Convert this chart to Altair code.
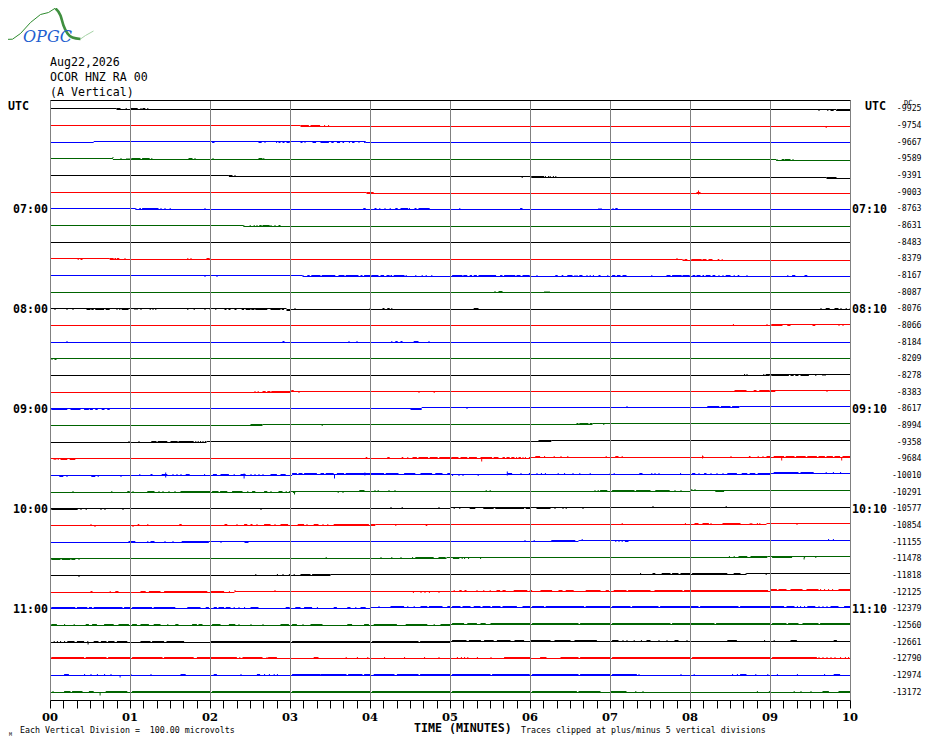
import altair as alt
import pandas as pd

# ---------- values ----------
RIGHT_LABELS = ["-9925","-9754","-9667","-9589","-9391","-9003","-8763","-8631","-8483","-8379","-8167","-8087",
                "-8076","-8066","-8184","-8209","-8278","-8383","-8617","-8994","-9358","-9684","-10010","-10291",
                "-10577","-10854","-11155","-11478","-11818","-12125","-12379","-12560","-12661","-12790","-12974","-13172"]
LEFT_TIMES = {6:"07:00",12:"08:00",18:"09:00",24:"10:00",30:"11:00"}
RIGHT_TIMES = {6:"07:10",12:"08:10",18:"09:10",24:"10:10",30:"11:10"}
COLORS = ["#000000","#ff0000","#0000ff","#006400"]
MINUTE_LABELS = ["00","01","02","03","04","05","06","07","08","09","10"]

# baseline level of each trace: (minute, image row)
LEVELS = [
 [(0,108),(.825,109),(9.82,110)], [(0,125),(3.125,126)], [(0,142),(.54,141),(3.94,142)], [(0,158),(.78,159),(9.07,160)],
 [(0,175),(2.23,176),(6.01,177),(9.7,178)], [(0,192),(3.95,193)], [(0,208),(1.06,209)], [(0,225),(2.41,226)],
 [(0,242)], [(0,258),(.74,259),(7.9,260)], [(0,275),(3.15,276)], [(0,292)],
 [(0,308),(2.95,309)], [(0,325),(9.01,324)], [(0,342)], [(0,358)],
 [(0,375),(8.99,374)], [(0,392),(3.0,391),(9.0,390)], [(0,408),(4.64,407),(8.61,406)], [(0,425),(2.65,424),(6.775,423)],
 [(0,442),(1.95,441),(6.26,440)], [(0,458),(6.0,457)], [(0,475),(3.02,474),(9.0,473)], [(0,492),(3.0,491),(8.0,490)],
 [(0,508),(5.0,507)], [(0,525),(4.06,524),(8.95,523)], [(0,542),(1.98,541),(6.6,540)], [(0,558),(4.95,557),(8.96,556)],
 [(0,575),(3.5,574),(8.7,573)], [(0,592),(2.3,591),(9.0,590)], [(0,608),(4.0,607)], [(0,625),(5.0,624)],
 [(0,642),(5.0,641)], [(0,658)], [(0,675)], [(0,692)],
]

# stretches where the trace is one pixel thicker (number = single-pixel dot)
R00 = [(.825,.875),.94,(1.0,1.09),1.125,(1.15,1.185),1.21,9.6,9.71,(9.75,9.79),(9.825,10)]
R01 = [(3.125,3.23),(3.25,3.37),3.42,3.47,9.69]
R02 = [(2.02,2.05),(2.6,2.64),2.675,2.82,(2.85,2.875),(2.9,2.925),(2.95,2.99),(3.125,3.15),3.175,(3.275,3.32),
       (3.375,3.48),(3.51,3.54),(3.58,3.62),(3.65,3.67),3.73,(3.77,3.8),3.85,(3.92,3.94)]
R03 = [.775,.875,.95,.975,(1.01,1.125),(1.145,1.24),1.26,(1.725,1.775),1.8,2.025,(2.6,2.65),2.66,
       9.075,(9.14,9.17),(9.175,9.25),9.275]
R04 = [(2.23,2.275),2.3,5.89,(6.01,6.17),6.18,6.22,6.24,6.28,6.31,(9.7,9.825)]
R05 = [(3.95,4.04),(8.075,8.11),(8.09,8.125)]
R06 = [1.06,(1.11,1.13),(1.145,1.35),1.375,1.425,1.49,1.925,(3.91,3.94),(4.05,4.075),4.11,4.175,4.24,(4.31,4.34),
       (4.375,4.47),4.48,(4.55,4.575),(4.6,4.74),5.11,(5.87,5.9),6.85,6.875,7.025,(7.06,7.09)]
R07 = [2.41,2.49,2.54,2.575,(2.61,2.64),(2.65,2.74),2.75,2.8,(2.85,2.875)]
R08 = []
R09 = [.34,(.375,.4),(.74,.79),(.8,.82),(.83,.86),.925,1.71,1.75,(1.95,1.99),7.825,7.9,(7.925,7.96),(8.01,8.14),
       (8.15,8.2),(8.225,8.275),(8.34,8.36),8.39]
R10 = [1.925,2.075,3.15,(3.21,3.24),(3.26,3.375),(3.39,3.56),(3.6,3.675),(3.69,3.85),(3.875,3.9),(3.92,4.0),(4.01,4.1),
       (4.125,4.17),(4.2,4.24),(4.25,4.27),(4.29,4.425),4.44,4.56,4.64,4.69,4.76,(5.02,5.15),(5.16,5.21),(5.24,5.27),
       (5.29,5.33),(5.35,5.57),(5.62,5.65),(5.67,5.81),(5.825,5.875),(5.9,5.99),6.075,(6.31,6.34),(6.39,6.41),(6.46,6.525),
       6.55,6.575,(6.61,6.65),6.7,6.74,6.78,(6.85,6.875),6.96,(7.02,7.06),(7.08,7.125),(7.15,7.2),7.51,(7.7,7.75),(7.77,7.89),
       (7.9,7.99),(8.025,8.06),(8.075,8.125),(8.15,8.17),(8.19,8.25),(8.275,8.31),8.35,8.4,(8.44,8.5),8.54,(8.59,8.61),8.7,
       9.21,(9.27,9.31),(9.425,9.46)]
R11 = [5.55,(5.6,5.65),6.175,6.2,6.225]
R12 = [.05,.2,.275,(.45,.5),(.51,.54),(.56,.67),(.69,.74),.825,.86,(.89,.975),1.05,1.075,1.125,1.24,1.275,1.31,1.71,1.79,
       1.925,1.99,2.06,(2.175,2.2),(2.225,2.25),(2.3,2.325),(2.39,2.42),(2.44,2.5),(2.51,2.55),(2.56,2.71),(2.75,2.875),
       (2.89,2.92),(2.95,3.0),3.05,3.99,(4.15,4.175),(4.21,4.24),4.26,(5.29,5.35),9.625,(9.69,9.74),(9.8,9.85),9.875,9.94,9.99]
R13 = [8.53,8.95,(9.01,9.15),(9.21,9.25),(9.525,9.56),9.85,9.9]
R14 = [.2,(2.9,2.925),3.725,3.825,4.26,(4.31,4.34),(4.375,4.4),(4.54,4.6),4.725]
R15 = [.0125,(.05,.075)]
R16 = [8.67,8.7,8.91,(8.94,9.0),(9.01,9.23),(9.25,9.29),(9.31,9.35),(9.375,9.48),9.56,9.65,9.675]
R17 = [2.55,2.59,(2.65,2.69),(2.71,2.75),(2.76,3.0),(3.01,3.04),3.1,4.6,4.79,(8.55,8.7),(8.79,8.825),(8.86,8.99),(9.0,9.06),9.7]
R18 = [(.01,.21),(.25,.375),(.42,.48),(.49,.53),(.56,.59),(.64,.675),(.71,.74),(4.5,4.64),5.2,7.2,(8.21,8.36),(8.38,8.5),(8.52,8.61)]
R19 = [(2.5,2.65),3.39,(6.575,6.6),(6.61,6.725),(6.74,6.775),6.91]
R20 = [.975,1.1,(1.26,1.325),(1.34,1.46),(1.5,1.59),(1.6,1.79),1.81,1.84,1.87,1.9,1.93,(6.1,6.26)]
R21 = [.04,.06,.09,(.125,.21),(.24,.31),(3.94,3.96),(4.21,4.24),(4.39,4.41),4.46,(4.525,4.58),(4.6,4.72),(4.74,4.84),(4.86,5.0),
       (5.01,5.1),(5.125,5.21),(5.23,5.33),(5.375,5.52),(5.54,5.6),(5.65,5.68),(5.7,5.74),(5.76,5.8),5.82,(5.85,5.88),5.9,5.93,
       (5.98,6.0),(6.06,6.12),6.17,6.29,6.375,6.46,6.94,(7.06,7.1),7.14,8.15,8.5,(8.73,8.75),8.84,8.9,(8.95,9.0),(9.04,9.17),
       (9.19,9.3),(9.32,9.44),(9.46,9.58),(9.6,9.68),(9.7,9.78),(9.8,9.87),(9.9,10)]
R22 = [(.11,.16),.2,(.51,.56),.59,.875,1.11,(1.25,1.275),(1.39,1.46),1.525,1.575,1.625,(1.69,1.74),1.92,(2.03,2.08),(2.125,2.23),
       2.29,(2.375,2.44),2.5,2.55,2.6,2.65,(2.75,2.83),(2.875,2.94),(3.02,3.08),(3.1,3.15),(3.17,3.33),(3.375,3.42),(3.44,3.54),
       (3.58,3.67),(3.69,4.17),(4.19,4.35),(4.42,4.56),(4.625,4.77),(4.81,4.9),(4.96,5.0),5.02,5.1,5.15,5.34,(5.71,5.77),5.875,
       (5.98,6.0),6.075,6.13,6.18,6.34,6.42,6.525,6.61,6.74,6.99,7.04,(7.36,7.4),7.51,7.55,7.6,7.87,(8.02,8.06),8.1,(8.17,8.2),8.25,
       8.325,8.4,(8.46,8.58),(8.64,8.71),(8.74,8.81),(8.84,9.0),(9.04,9.35),(9.375,9.54),9.69,9.78,9.87]
R23 = [.275,.76,(.96,.99),1.025,(1.21,1.3),1.35,1.4,1.475,1.55,(1.625,2.0),(2.02,2.1),(2.12,2.21),(2.27,2.4),2.46,(2.52,2.56),
       (2.67,2.71),2.75,(2.85,2.9),2.94,2.98,(3.03,3.06),3.59,3.65,(3.86,3.925),4.05,4.09,4.225,4.3,5.44,5.49,6.8,6.84,(6.87,6.96),
       (7.02,7.3),(7.32,7.5),(7.56,7.74),7.8,7.875,8.01,8.05,(8.31,8.42)]
R24 = [(.01,.34),.375,.44,.625,.675,.9,2.625,4.25,4.39,4.85,5.04,5.11,(5.24,5.31),(5.41,5.54),(5.56,5.92),(5.94,6.0),(6.075,6.25),
       6.3,6.4,6.44,6.65,7.525,8.44]
R25 = [.5,.55,1.025,(1.09,1.11),1.21,(1.61,1.64),(2.175,2.21),2.325,(2.42,2.46),(2.5,2.525),2.575,(2.67,2.75),2.8,(2.875,2.97),
       (3.09,3.17),3.2,(3.29,3.35),3.4,3.46,(3.54,3.98),(4.0,4.06),4.31,(4.69,4.71),7.14,7.93,(8.05,8.1),(8.15,8.23),8.25,(8.4,8.625),
       8.74,8.76,8.83,8.86,9.325]
R26 = [(.975,1.06),1.21,(1.25,1.3),1.425,1.525,(1.64,1.98),2.125,(2.425,2.475),5.925,6.04,(6.26,6.56),6.64,7.06,7.1,7.14,(7.18,7.225),9.72,9.78]
R27 = [(.01,.125),(.14,.25),(.26,.31),.35,3.44,4.125,4.26,4.375,4.52,(4.56,4.79),(4.85,4.94),(5.03,5.11),5.14,5.17,5.22,5.37,
       8.48,8.54,(8.6,8.71),(8.75,8.96),(9.02,9.27),9.42,9.56]
R28 = [.35,2.56,2.83,2.9,2.98,3.04,(3.125,3.25),(3.27,3.5),7.37,(7.525,7.56),(7.64,7.75),(7.77,7.85),(7.875,8.0),(8.02,8.46),
       (8.54,8.625),8.69,8.94]
R29 = [(.5,.525),.74,(.81,.85),(1.125,1.19),(1.23,1.375),(1.42,1.96),(2.0,2.17),2.23,2.3,2.8,4.53,4.625,4.675,4.73,4.85,5.04,
       (5.11,5.14),(5.175,5.2),5.325,5.41,5.49,(5.575,5.62),(5.65,5.69),(5.79,5.96),(5.99,6.02),(6.125,6.27),(6.35,6.4),(6.44,6.54),
       (6.69,6.875),(6.94,6.98),(7.04,7.2),(7.22,7.5),(7.55,7.9),(7.92,8.97),(9.0,9.08),(9.1,9.2),(9.25,9.4),(9.45,9.6),9.62,9.67,
       9.72,9.77,(9.85,10)]
R30 = [(.01,.31),(.33,.46),(.48,.52),(.54,.9),(.92,1.0),(1.02,1.27),(1.29,1.56),(1.71,1.875),(1.94,1.98),(2.04,2.08),(2.1,2.17),
       (2.19,2.25),2.29,2.35,2.42,(2.5,2.6),(2.94,2.99),(3.06,3.125),(3.17,3.27),3.33,(3.54,3.58),(3.71,3.75),3.81,(3.875,3.94),4.1,
       (4.25,4.42),4.46,4.54,(4.625,4.71),(4.73,4.9),(4.96,5.0),(5.02,5.125),(5.15,5.25),(5.29,5.375),(5.4,5.5),(5.52,5.625),(5.65,5.83),
       (5.9,6.0),(6.02,6.17),(6.19,6.67),(6.69,7.0),(7.02,7.25),(7.27,7.6),(7.62,8.1),(8.12,8.6),(8.62,9.17),(9.2,9.3),9.33,9.37,9.42,
       (9.46,9.56),9.6,9.65,9.7,(9.75,9.85),(9.92,10)]
R31 = [(.01,.08),.17,.29,(.44,.48),(.52,.58),(.67,.79),(.85,.98),(1.02,1.08),(1.125,1.23),(1.29,1.375),1.46,(1.56,1.6),(1.77,1.83),
       (1.85,1.9),(2.02,2.125),(2.23,2.31),2.35,2.5,2.65,(2.875,2.98),(3.02,3.08),3.15,(3.25,3.4),(3.71,3.77),(3.92,3.98),(4.04,4.33),
       (4.44,4.71),4.79,(4.875,5.0),(5.02,5.17),(5.21,5.33),(5.375,5.44),(5.5,6.0),(6.02,6.6),(6.62,7.0),(7.02,7.75),(7.77,8.3),
       (8.32,9.0),(9.02,9.2),(9.22,9.35),(9.4,9.6),(9.62,10)]
R32 = [.04,.08,.12,.17,(.21,.3),(.33,.42),.46,(.54,.6),(.63,.7),(.72,.8),(.83,.96),(1.125,1.25),(1.27,1.42),(1.45,1.67),(2.0,3.0),
       (3.02,4.0),(4.02,4.6),(4.62,5.0),(5.02,5.2),(5.23,5.38),(5.42,5.54),(5.58,5.75),(5.8,5.92),(6.0,6.25),(6.3,6.5),(6.55,6.83),
       (7.02,7.1),7.15,7.2,7.29,7.38,(7.45,7.5),7.6,7.7,(7.8,7.85),7.95,(8.46,8.58),8.92,9.04,(9.25,9.33),(9.79,9.83)]
R33 = [(.01,.42),(.44,.7),(.72,1.0),(1.02,1.4),(1.42,1.79),(1.83,2.33),2.36,(2.4,2.65),2.7,(2.72,2.83),(3.29,3.35),3.69,3.83,3.96,
       4.17,4.42,4.67,4.85,5.08,5.13,5.17,5.21,5.33,5.5,(5.67,6.0),(6.12,6.2),(6.375,6.6),(6.62,7.0),(7.02,8.0),(8.02,9.0),(9.02,9.58),
       9.6,9.65,9.7,9.75,9.8,9.87,9.93,9.97]
R34 = [(.17,.23),.42,.5,.58,.67,.75,1.0,1.25,(1.625,1.69),(2.04,2.08),2.375,(2.58,2.62),2.67,2.73,2.79,2.83,(3.02,3.375),(3.375,3.7),
       (3.72,3.9),(3.92,4.0),(4.04,4.3),(4.33,4.6),(4.62,5.0),(5.02,5.5),(5.52,5.99),(6.02,6.6),(6.62,7.0),(7.02,7.33),7.35,7.875,
       8.04,8.52,8.58,(8.62,8.7),8.81,8.96,9.08,9.33,9.67,(9.79,9.87)]
R35 = [.025,(.17,.25),(.27,.4),(.48,.54),(.69,.96),(1.02,2.0),(2.02,3.0),(3.02,4.0),(4.02,5.0),(5.02,6.0),(6.02,6.58),(6.6,6.875),
       (7.0,7.2),7.31,7.4,8.83,8.98,9.29,9.375,9.5,(9.65,9.73),(9.85,10)]
BURSTS = [R00,R01,R02,R03,R04,R05,R06,R07,R08,R09,R10,R11,R12,R13,R14,R15,R16,R17,R18,R19,R20,R21,R22,R23,R24,R25,R26,R27,R28,R29,R30,R31,R32,R33,R34,R35]

# minute ranges in which the thickening hangs below the trace instead of above it
BELOW = {0:[(9.55,9.8)],1:[(9.6,9.8)],2:[(0,3.95)],4:[(5.8,6.0)],9:[(.3,.5)],10:[(1.9,2.1)],12:[(0,3.0)],13:[(9.01,10)],15:[(0,1)],
         16:[(9.0,10)],17:[(3.05,5),(9.0,10)],18:[(0,.8),(4.5,5.3)],19:[(3.3,3.5),(6.9,7)],21:[(0,.4)],22:[(0,.9),(5,5.4)],
         23:[(3.0,3.1),(3.5,3.7),(8.3,8.5)],24:[(0,1),(2.6,2.7),(5,7)],25:[(.54,.56),(1.0,1.05),(4.3,4.8),(9.3,9.4)],
         26:[(2.1,2.5),(7,7.3)],27:[(0,.4),(5,5.5),(9,9.6)],28:[(.3,.4),(8.9,9)],29:[(4.5,4.9)]}

# taller spikes: (trace, minute, top row, bottom row)
SPIKES = [(21,5.39,458,461),(21,9.14,457,460),(21,9.89,457,460),(21,8.15,455,458),(22,1.44,472,477),(22,2.42,473,478),(22,3.55,474,478),
          (22,3.93,472,475),(22,5.71,471,475),(23,3.05,491,494),(35,.62,692,695),(34,.87,675,677),(32,.47,642,644),(27,9.42,557,559),
          (5,8.1,190,194)]

LOGO_THIN_X = [2,12,20,30,40,48,55,55]
LOGO_THIN_Y = [39,38.7,33,22,14,12,7.5,3]
LOGO_THICK_X = [55,60,63,67,72,80]
LOGO_THICK_Y = [8,15,25,33,37,38.5]
LOGO_FADE_X = [80,85,93]
LOGO_FADE_Y = [38.5,35,30.5]

# ---------- tables ----------
HALF = 1/160  # half a pixel in minutes, so that 1px rules fall on whole image pixels
y_scale = alt.Scale(domain=[99.5,699.5], range=[0,600], nice=False, zero=False)
x_scale = alt.Scale(domain=[-HALF,10-HALF], nice=False, zero=False)
DOT = 1/80

def px(x): return (x-50)/80
def px_text(x): return px(x)-HALF

rows = []
for r,(steps,spans) in enumerate(zip(LEVELS,BURSTS)):
    col = COLORS[r%4]
    for i,(t,lev) in enumerate(steps):
        end = steps[i+1][0] if i+1<len(steps) else 10
        rows.append(dict(t0=t,t1=end,y=lev,c=col))
    for s in spans:
        a,b = (s,s+DOT) if not isinstance(s,tuple) else s
        if isinstance(s,tuple) and b-a<DOT: b=a+DOT
        lev = [l for t,l in steps if t<=a+1e-9][-1]
        below = any(p<=a<q for p,q in BELOW.get(r,[]))
        rows.append(dict(t0=a,t1=min(b,10),y=lev+(1 if below else -1),c=col))
traces = pd.DataFrame(rows)

spikes = pd.DataFrame([dict(t=t,y=a,y2=b,c=COLORS[r%4]) for r,t,a,b in SPIKES])

X = alt.X("t0:Q",scale=x_scale,axis=None)
Y = alt.Y("y:Q",scale=y_scale,axis=None)
trace_layer = alt.Chart(traces).mark_rule(strokeWidth=1).encode(x=X,x2="t1:Q",y=Y,color=alt.Color("c:N",scale=None))
spike_layer = alt.Chart(spikes).mark_rule(strokeWidth=1).encode(x=alt.X("t:Q",scale=x_scale,axis=None),y=Y,y2="y2:Q",color=alt.Color("c:N",scale=None))

minutes = pd.DataFrame({"t":list(range(11)),"a":[100]*11,"b":[700]*11})
grid = alt.Chart(minutes).mark_rule(color="#808080",strokeWidth=1).encode(
    x=alt.X("t:Q",scale=x_scale,axis=None),y=alt.Y("a:Q",scale=y_scale,axis=None),y2="b:Q")
ticks = pd.DataFrame({"t":[round(80*i/6)/80 for i in range(61)]})
ticks["a"] = 700
ticks["b"] = 708
tick_layer = alt.Chart(ticks).mark_rule(color="black",strokeWidth=1).encode(
    x=alt.X("t:Q",scale=x_scale,axis=None),y=alt.Y("a:Q",scale=y_scale,axis=None),y2="b:Q")
frame = alt.Chart(pd.DataFrame({"t0":[0,0],"t1":[10,10],"y":[100,700]})).mark_rule(color="black",strokeWidth=1).encode(x=X,x2="t1:Q",y=Y)

def text_layer(xs,ys,texts,**kw):
    df = pd.DataFrame({"x":[px_text(v) for v in xs],"y":ys,"s":texts})
    return alt.Chart(df).mark_text(**kw).encode(x=alt.X("x:Q",scale=x_scale,axis=None),y=Y,text="s:N")

MONO = "DejaVu Sans Mono"
row_y = [l[0][1]+.5 for l in LEVELS]
layers = [trace_layer,spike_layer,grid,frame,tick_layer]
layers.append(text_layer([50+80*i for i in range(11)],[717]*11,MINUTE_LABELS,font="DejaVu Serif",fontSize=11.5,fontWeight="bold",align="center",baseline="middle",color="black"))
layers.append(text_layer([50,50,50],[62,77,92],["Aug22,2026","OCOR HNZ RA 00","(A Vertical)"],font=MONO,fontSize=11.6,align="left",baseline="middle",color="black"))
layers.append(text_layer([8,865],[106.5,106.5],["UTC","UTC"],font=MONO,fontSize=11.6,fontWeight="bold",align="left",baseline="middle",color="black"))
layers.append(text_layer([48]*5,[row_y[k]+.5 for k in LEFT_TIMES],list(LEFT_TIMES.values()),font=MONO,fontSize=11.6,fontWeight="bold",align="right",baseline="middle",color="black"))
layers.append(text_layer([852]*5,[row_y[k]+.5 for k in RIGHT_TIMES],list(RIGHT_TIMES.values()),font=MONO,fontSize=11.6,fontWeight="bold",align="left",baseline="middle",color="black"))
layers.append(text_layer([921.5]*36,row_y,RIGHT_LABELS,font=MONO,fontSize=8.2,align="right",baseline="middle",color="black"))
layers.append(text_layer([904],[102.5],["DC"],font=MONO,fontSize=7,align="left",baseline="middle",color="black"))
layers.append(text_layer([20,521],[730,730],["Each Vertical Division =\u00a0 100.00 microvolts","Traces clipped at plus/minus 5 vertical divisions"],font=MONO,fontSize=8.3,align="left",baseline="middle",color="black"))
layers.append(text_layer([414],[728.5],["TIME (MINUTES)"],font=MONO,fontSize=11.6,fontWeight="bold",align="left",baseline="middle",color="black"))
layers.append(text_layer([9],[733],["M"],font=MONO,fontSize=5,align="left",baseline="middle",color="black"))
for xs,ys,col,w,itp in [(LOGO_THIN_X,LOGO_THIN_Y,"#2e8b2e",1,"linear"),(LOGO_THICK_X,LOGO_THICK_Y,"#3f8f3f",2.6,"monotone"),(LOGO_FADE_X,LOGO_FADE_Y,"#a6d3a6",1,"linear")]:
    df = pd.DataFrame({"x":[px(v) for v in xs],"y":ys,"o":range(len(xs))})
    layers.append(alt.Chart(df).mark_line(color=col,strokeWidth=w,interpolate=itp).encode(x=alt.X("x:Q",scale=x_scale,axis=None),y=Y,order="o:Q"))
layers.append(text_layer([23],[36],["OPGC"],font="DejaVu Serif",fontSize=16,fontStyle="italic",align="left",baseline="middle",color="#1f5fd0"))

chart = alt.layer(*layers).properties(width=800,height=600,autosize="none",
    padding={"left":42,"top":92,"right":72,"bottom":36},background="white").configure_view(stroke=None)
chart.save("out.html",embed_options={"renderer":"svg","actions":False})
